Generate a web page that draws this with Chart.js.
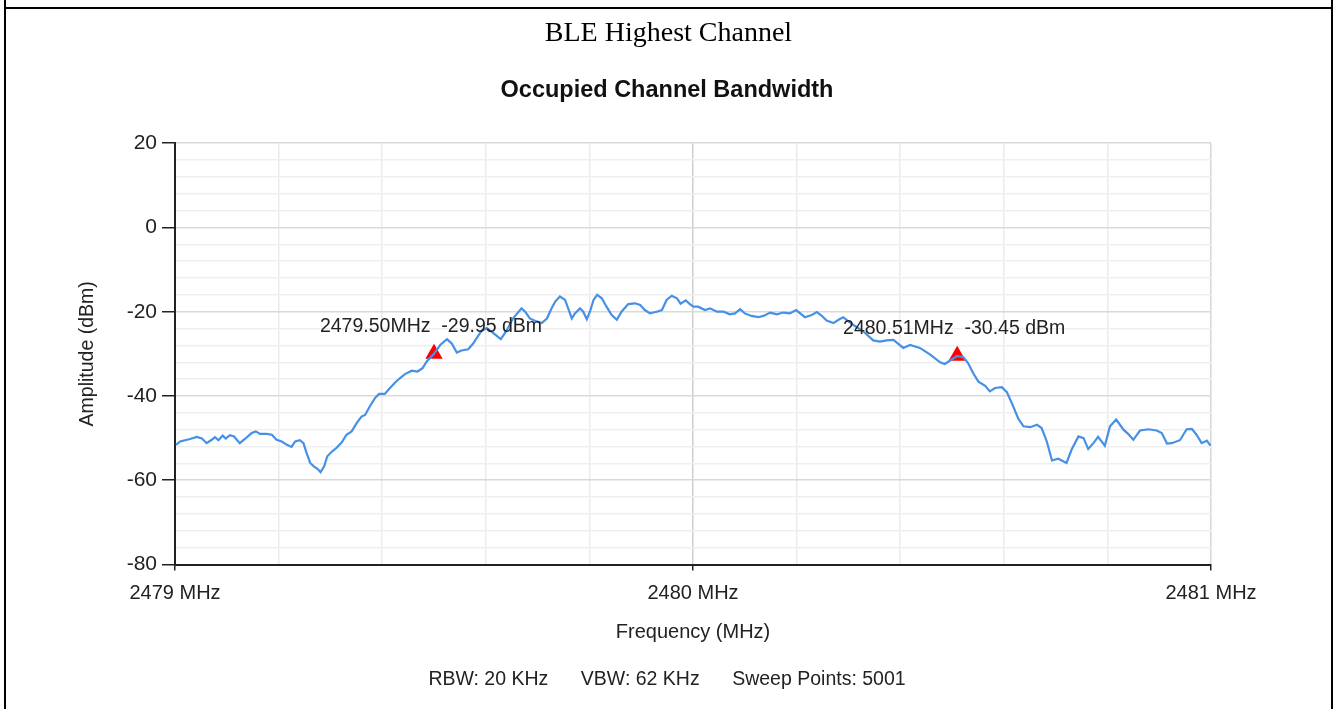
<!DOCTYPE html>
<html>
<head>
<meta charset="utf-8">
<script src="https://cdn.jsdelivr.net/npm/chart.js@4.4.1/dist/chart.umd.min.js"></script>
<style>
  html, body { margin: 0; padding: 0; background: #fff; }
  body { width: 1334px; height: 709px; position: relative; overflow: hidden; }
  #grafiks { position: absolute; left: 0; top: 0; }
  .linija { position: absolute; background: #000; }
  #virsraksts {
    position: absolute; left: 6px; right: 3px; top: 16px;
    text-align: center; font-family: "Liberation Serif", "Times New Roman", serif;
    font-size: 28px; color: #000;
  }
</style>
</head>
<body>
<canvas id="grafiks" width="1334" height="709"></canvas>
<div class="linija" style="left:4px; top:0; width:2px; height:709px;"></div>
<div class="linija" style="left:1331px; top:0; width:2px; height:709px;"></div>
<div class="linija" style="left:4px; top:7px; width:1329px; height:2px;"></div>
<div id="virsraksts">BLE Highest Channel</div>
<script>
// Frekvences (MHz), nolasītas no attēla
const freqMHz = [
  2479.002, 2479.010, 2479.029, 2479.042, 2479.052, 2479.061, 2479.071, 2479.077, 2479.084, 2479.092,
  2479.098, 2479.106, 2479.114, 2479.125, 2479.135, 2479.148, 2479.156, 2479.164, 2479.177, 2479.187,
  2479.196, 2479.206, 2479.216, 2479.225, 2479.232, 2479.241, 2479.248, 2479.254, 2479.261, 2479.268,
  2479.275, 2479.281, 2479.288, 2479.294, 2479.303, 2479.312, 2479.322, 2479.331, 2479.341, 2479.351,
  2479.360, 2479.367, 2479.376, 2479.386, 2479.394, 2479.405, 2479.415, 2479.425, 2479.434, 2479.444,
  2479.457, 2479.468, 2479.478, 2479.486, 2479.500, 2479.512, 2479.525, 2479.534, 2479.544, 2479.553,
  2479.566, 2479.576, 2479.582, 2479.592, 2479.602, 2479.614, 2479.629, 2479.640, 2479.653, 2479.669,
  2479.676, 2479.685, 2479.698, 2479.708, 2479.718, 2479.727, 2479.734, 2479.743, 2479.753, 2479.759,
  2479.766, 2479.772, 2479.782, 2479.788, 2479.795, 2479.801, 2479.808, 2479.815, 2479.824, 2479.833,
  2479.843, 2479.853, 2479.862, 2479.875, 2479.888, 2479.898, 2479.907, 2479.917, 2479.930, 2479.940,
  2479.949, 2479.959, 2479.969, 2479.976, 2479.986, 2479.994, 2480.001, 2480.010, 2480.023, 2480.033,
  2480.046, 2480.059, 2480.071, 2480.081, 2480.091, 2480.100, 2480.113, 2480.126, 2480.136, 2480.149,
  2480.162, 2480.174, 2480.187, 2480.199, 2480.207, 2480.216, 2480.229, 2480.239, 2480.248, 2480.258,
  2480.271, 2480.281, 2480.290, 2480.300, 2480.309, 2480.329, 2480.348, 2480.361, 2480.374, 2480.387,
  2480.406, 2480.419, 2480.438, 2480.458, 2480.477, 2480.486, 2480.510, 2480.522, 2480.531, 2480.541,
  2480.551, 2480.564, 2480.573, 2480.583, 2480.596, 2480.606, 2480.617, 2480.628, 2480.638, 2480.651,
  2480.664, 2480.673, 2480.683, 2480.693, 2480.705, 2480.721, 2480.731, 2480.744, 2480.754, 2480.763,
  2480.773, 2480.782, 2480.795, 2480.805, 2480.817, 2480.831, 2480.840, 2480.850, 2480.863, 2480.879,
  2480.895, 2480.905, 2480.915, 2480.924, 2480.940, 2480.953, 2480.963, 2480.972, 2480.982, 2480.992,
  2480.999
];

// Amplitūda (dBm) katrai frekvencei
const ampDbm = [
  -51.6, -50.8, -50.2, -49.7, -50.1, -51.2, -50.4, -49.8, -50.5, -49.4,
  -50.1, -49.3, -49.6, -51.2, -50.2, -48.8, -48.4, -49.0, -49.0, -49.2,
  -50.4, -50.8, -51.6, -52.1, -50.8, -50.5, -51.2, -53.5, -55.9, -56.7,
  -57.3, -58.1, -56.7, -54.3, -53.2, -52.3, -51.0, -49.2, -48.4, -46.4,
  -44.9, -44.5, -42.5, -40.5, -39.5, -39.5, -38.1, -36.8, -35.8, -34.8,
  -34.0, -34.2, -33.4, -31.8, -30.0, -27.9, -26.5, -27.5, -29.7, -29.2,
  -28.9, -27.5, -26.3, -24.5, -23.9, -25.0, -26.5, -24.5, -21.5, -19.2,
  -20.0, -21.6, -22.3, -22.7, -21.6, -19.2, -17.6, -16.4, -17.2, -19.2,
  -21.6, -20.4, -19.2, -20.0, -21.8, -20.0, -17.2, -16.0, -16.8, -18.8,
  -20.8, -21.9, -20.0, -18.2, -18.0, -18.4, -19.6, -20.4, -20.0, -19.6,
  -17.2, -16.2, -16.8, -18.1, -17.3, -18.2, -18.8, -18.8, -19.6, -19.2,
  -20.0, -20.0, -20.6, -20.4, -19.4, -20.4, -21.0, -21.3, -21.0, -20.2,
  -20.6, -20.2, -20.4, -19.6, -20.4, -21.3, -20.8, -20.1, -20.9, -22.1,
  -22.7, -21.9, -21.3, -22.3, -23.1, -24.7, -26.8, -27.1, -26.8, -26.7,
  -28.6, -27.9, -28.6, -30.2, -32.0, -32.4, -30.5, -30.8, -32.2, -34.6,
  -36.6, -37.6, -38.9, -38.1, -37.9, -39.1, -42.1, -45.4, -47.2, -47.4,
  -46.8, -47.6, -50.8, -55.3, -54.9, -55.9, -52.7, -49.6, -50.0, -52.6,
  -51.2, -49.7, -51.8, -47.2, -45.6, -48.0, -49.0, -50.4, -48.2, -47.9,
  -48.2, -48.8, -51.3, -51.2, -50.5, -47.9, -47.8, -49.2, -51.2, -50.6,
  -51.8
];

// Marķieri (OBW robežas)
const markerFreq = [2479.50, 2480.51];
const markerAmp = [-29.95, -30.45];

// Ass robežas un iezīmes
const xRange = [2479, 2481];
const yRange = [-80, 20];
const xLabelsMHz = [2479, 2480, 2481];

const irVesels = (v) => Math.abs(v - Math.round(v)) < 1e-6;

// Marķieru teksti virs trijstūriem
const markieruTeksti = {
  id: "markieruTeksti",
  afterDatasetsDraw(chart) {
    const meta = chart.getDatasetMeta(1);
    const ctx = chart.ctx;
    ctx.save();
    ctx.font = '19.5px "Liberation Sans", Arial, sans-serif';
    ctx.fillStyle = "#222";
    ctx.textAlign = "center";
    ctx.textBaseline = "middle";
    meta.data.forEach((el, i) => {
      const teksts = markerFreq[i].toFixed(2) + "MHz  " + markerAmp[i].toFixed(2) + " dBm";
      ctx.fillText(teksts, el.x - 3, el.y - 27);
    });
    ctx.restore();
  }
};

Chart.defaults.font.family = '"Liberation Sans", Arial, sans-serif';
Chart.defaults.color = "#222";

new Chart(document.getElementById("grafiks").getContext("2d"), {
  type: "line",
  data: {
    datasets: [
      {
        data: freqMHz.map((f, i) => ({ x: f, y: ampDbm[i] })),
        borderColor: "#4690e6",
        borderWidth: 2.2,
        pointRadius: 0,
        tension: 0,
        fill: false
      },
      {
        data: markerFreq.map((f, i) => ({ x: f, y: markerAmp[i] })),
        showLine: false,
        pointStyle: "triangle",
        pointRadius: 10,
        pointBackgroundColor: "#f00",
        pointBorderColor: "#f00",
        pointBorderWidth: 0
      }
    ]
  },
  options: {
    responsive: false,
    animation: false,
    layout: { padding: 0 },
    plugins: {
      legend: { display: false },
      tooltip: { enabled: false },
      title: {
        display: true,
        text: "Occupied Channel Bandwidth",
        color: "#111",
        font: { size: 23.5, weight: "bold", lineHeight: 1.2 },
        padding: { top: 76, bottom: 39 }
      },
      subtitle: {
        display: true,
        position: "bottom",
        text: "RBW: 20 KHz      VBW: 62 KHz      Sweep Points: 5001",
        color: "#222",
        font: { size: 19.5, lineHeight: 1 },
        padding: { top: 10, bottom: 20 }
      }
    },
    scales: {
      x: {
        type: "linear",
        min: xRange[0],
        max: xRange[1],
        afterFit(scale) { scale.height = 95; },
        border: { display: true, color: "#222", width: 2 },
        grid: {
          color: (c) => {
            const v = c.tick ? c.tick.value : 0;
            if (Math.abs(v - 2480) < 1e-6) return "#cfcfcf";
            if (Math.abs(v - xRange[1]) < 1e-6) return "#d6d6d6";
            return "#ebebeb";
          },
          lineWidth: 1.5,
          tickLength: 6,
          tickColor: (c) => (c.tick && xLabelsMHz.some((m) => Math.abs(c.tick.value - m) < 1e-6)) ? "#222" : "rgba(0,0,0,0)"
        },
        ticks: {
          stepSize: 0.2,
          autoSkip: false,
          maxRotation: 0,
          padding: 11,
          font: { size: 20 },
          color: "#222",
          callback: (v) => irVesels(v) ? Math.round(v) + " MHz" : ""
        },
        title: {
          display: true,
          text: "Frequency (MHz)",
          font: { size: 20, lineHeight: 1.2 },
          color: "#222",
          padding: { top: 0, bottom: 15 }
        }
      },
      y: {
        min: yRange[0],
        max: yRange[1],
        afterFit(scale) { scale.width = 175; },
        border: { display: true, color: "#222", width: 2 },
        grid: {
          color: (c) => {
            const v = c.tick ? c.tick.value : 0;
            return Math.abs(v % 20) < 1e-6 ? "#d9d9d9" : "#efefef";
          },
          lineWidth: 1.5,
          tickLength: 13,
          tickColor: (c) => (c.tick && Math.abs(c.tick.value % 20) < 1e-6) ? "#222" : "rgba(0,0,0,0)"
        },
        ticks: {
          stepSize: 4,
          autoSkip: false,
          padding: 5,
          font: { size: 21 },
          color: "#222",
          callback: (v) => Math.abs(v % 20) < 1e-6 ? String(v) : ""
        },
        title: {
          display: true,
          text: "Amplitude (dBm)",
          font: { size: 19.5, lineHeight: 1.2 },
          color: "#222",
          padding: { top: 76, bottom: 0 }
        }
      },
      // Tukša labā ass, lai virsraksti būtu centrēti pēc visas lapas
      yLabaa: {
        position: "right",
        display: true,
        min: yRange[0],
        max: yRange[1],
        afterFit(scale) { scale.width = 123; },
        border: { display: false },
        grid: { display: false, drawOnChartArea: false },
        ticks: { display: false }
      }
    }
  },
  plugins: [markieruTeksti]
});
</script>
</body>
</html>
